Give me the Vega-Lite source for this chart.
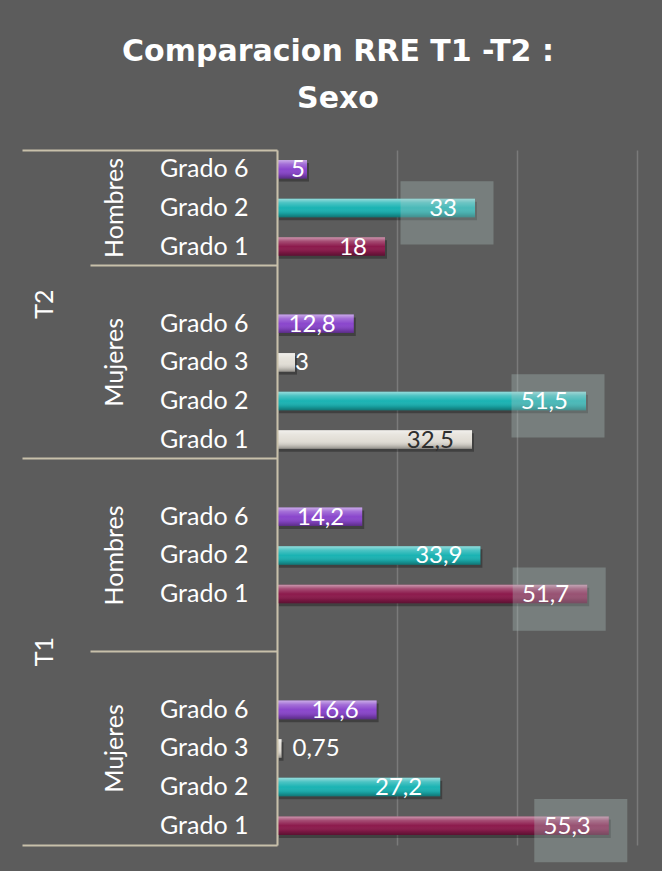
{
  "$schema": "https://vega.github.io/schema/vega-lite/v6.json",
  "width": 360,
  "height": 695,
  "autosize": {"type": "none"},
  "padding": {"left": 277, "top": 150, "right": 25, "bottom": 26},
  "background": "#5c5c5c",
  "title": {
    "text": ["Comparacion RRE T1 -T2 :", "Sexo"],
    "font": "DejaVu Sans",
    "fontSize": 30,
    "fontWeight": "bold",
    "color": "#ffffff",
    "anchor": "middle",
    "frame": "group",
    "dx": -119,
    "lineHeight": 47,
    "offset": 35
  },
  "data": {
    "values": [
      {"categoria": "T2|Hombres|Grado 6", "tiempo": "T2", "sexo": "Hombres", "grado": "Grado 6", "valor": 5},
      {"categoria": "T2|Hombres|Grado 2", "tiempo": "T2", "sexo": "Hombres", "grado": "Grado 2", "valor": 33},
      {"categoria": "T2|Hombres|Grado 1", "tiempo": "T2", "sexo": "Hombres", "grado": "Grado 1", "valor": 18},
      {"categoria": "T2|Mujeres|Grado 6", "tiempo": "T2", "sexo": "Mujeres", "grado": "Grado 6", "valor": 12.8},
      {"categoria": "T2|Mujeres|Grado 3", "tiempo": "T2", "sexo": "Mujeres", "grado": "Grado 3", "valor": 3},
      {"categoria": "T2|Mujeres|Grado 2", "tiempo": "T2", "sexo": "Mujeres", "grado": "Grado 2", "valor": 51.5},
      {"categoria": "T2|Mujeres|Grado 1", "tiempo": "T2", "sexo": "Mujeres", "grado": "Grado 1", "valor": 32.5},
      {"categoria": "T1|Hombres|Grado 6", "tiempo": "T1", "sexo": "Hombres", "grado": "Grado 6", "valor": 14.2},
      {"categoria": "T1|Hombres|Grado 2", "tiempo": "T1", "sexo": "Hombres", "grado": "Grado 2", "valor": 33.9},
      {"categoria": "T1|Hombres|Grado 1", "tiempo": "T1", "sexo": "Hombres", "grado": "Grado 1", "valor": 51.7},
      {"categoria": "T1|Mujeres|Grado 6", "tiempo": "T1", "sexo": "Mujeres", "grado": "Grado 6", "valor": 16.6},
      {"categoria": "T1|Mujeres|Grado 3", "tiempo": "T1", "sexo": "Mujeres", "grado": "Grado 3", "valor": 0.75},
      {"categoria": "T1|Mujeres|Grado 2", "tiempo": "T1", "sexo": "Mujeres", "grado": "Grado 2", "valor": 27.2},
      {"categoria": "T1|Mujeres|Grado 1", "tiempo": "T1", "sexo": "Mujeres", "grado": "Grado 1", "valor": 55.3}
    ]
  },
  "layer": [
    {
      "mark": {"type": "bar", "height": {"band": 0.48}, "color": "#000000", "opacity": 0.3, "xOffset": 2, "yOffset": 3},
      "encoding": {
        "x": {"field": "valor", "type": "quantitative", "scale": {"domain": [0, 60], "nice": false}},
        "y": {"field": "categoria", "type": "nominal", "title": null,
          "scale": {"type": "band", "paddingInner": 0, "paddingOuter": 0, "domain": ["T2|Hombres|Grado 6","T2|Hombres|Grado 2","T2|Hombres|Grado 1","T2|Mujeres|","T2|Mujeres|Grado 6","T2|Mujeres|Grado 3","T2|Mujeres|Grado 2","T2|Mujeres|Grado 1","T1|Hombres| ","T1|Hombres|Grado 6","T1|Hombres|Grado 2","T1|Hombres|Grado 1","T1|Hombres|  ","T1|Mujeres|","T1|Mujeres|Grado 6","T1|Mujeres|Grado 3","T1|Mujeres|Grado 2","T1|Mujeres|Grado 1"]},
          "axis": {"orient": "left", "labelExpr": "split(datum.value, '|')[2]", "ticks": false, "tickSize": 0, "labelPadding": 29, "domain": true, "domainColor": "#c8c0aa", "domainWidth": 2, "labelColor": "#ffffff", "labelFont": "Lato", "labelFontSize": 25, "labelOverlap": false, "grid": false, "title": null, "zindex": 1}}
      }
    },
    {
      "mark": {"type": "bar", "height": {"band": 0.48}},
      "encoding": {
        "x": {"field": "valor", "type": "quantitative", "scale": {"domain": [0, 60], "nice": false}},
        "y": {"field": "categoria", "type": "nominal", "title": null,
          "scale": {"type": "band", "paddingInner": 0, "paddingOuter": 0, "domain": ["T2|Hombres|Grado 6","T2|Hombres|Grado 2","T2|Hombres|Grado 1","T2|Mujeres|","T2|Mujeres|Grado 6","T2|Mujeres|Grado 3","T2|Mujeres|Grado 2","T2|Mujeres|Grado 1","T1|Hombres| ","T1|Hombres|Grado 6","T1|Hombres|Grado 2","T1|Hombres|Grado 1","T1|Hombres|  ","T1|Mujeres|","T1|Mujeres|Grado 6","T1|Mujeres|Grado 3","T1|Mujeres|Grado 2","T1|Mujeres|Grado 1"]},
          "axis": {"orient": "left", "values": ["T2|Hombres|Grado 1", "T1|Hombres|  "], "bandPosition": 1, "labels": false, "domain": false, "ticks": true, "tickSize": 187, "tickColor": "#c8c0aa", "tickWidth": 2, "grid": false, "title": null}},
        "color": {
          "condition": {"test": "datum.categoria == 'T2|Mujeres|Grado 1'", "value": "#e2ded6"},
          "field": "grado", "type": "nominal", "legend": null,
          "scale": {"domain": ["Grado 6", "Grado 2", "Grado 1", "Grado 3"], "range": ["#8a46cc", "#1ab3b3", "#8c1a4c", "#e2ded6"]}
        }
      }
    },
    {
      "mark": {"type": "bar", "height": {"band": 0.48},
        "color": {"gradient": "linear", "x1": 0, "y1": 0, "x2": 0, "y2": 1,
          "stops": [
            {"offset": 0, "color": "rgba(255,255,255,0.55)"},
            {"offset": 0.22, "color": "rgba(255,255,255,0.22)"},
            {"offset": 0.5, "color": "rgba(255,255,255,0)"},
            {"offset": 0.8, "color": "rgba(0,0,0,0.12)"},
            {"offset": 1, "color": "rgba(0,0,0,0.35)"}
          ]}},
      "encoding": {
        "x": {"field": "valor", "type": "quantitative", "scale": {"domain": [0, 60], "nice": false}},
        "y": {"field": "categoria", "type": "nominal", "title": null,
          "scale": {"type": "band", "paddingInner": 0, "paddingOuter": 0, "domain": ["T2|Hombres|Grado 6","T2|Hombres|Grado 2","T2|Hombres|Grado 1","T2|Mujeres|","T2|Mujeres|Grado 6","T2|Mujeres|Grado 3","T2|Mujeres|Grado 2","T2|Mujeres|Grado 1","T1|Hombres| ","T1|Hombres|Grado 6","T1|Hombres|Grado 2","T1|Hombres|Grado 1","T1|Hombres|  ","T1|Mujeres|","T1|Mujeres|Grado 6","T1|Mujeres|Grado 3","T1|Mujeres|Grado 2","T1|Mujeres|Grado 1"]},
          "axis": {"orient": "left", "values": ["T2|Mujeres|Grado 1", "T1|Mujeres|Grado 1"], "bandPosition": 1, "labels": false, "domain": false, "ticks": true, "tickSize": 255, "tickColor": "#c8c0aa", "tickWidth": 2, "grid": false, "title": null}}
      }
    },
    {
      "transform": [{"filter": {"field": "categoria", "oneOf": ["T2|Hombres|Grado 2", "T2|Mujeres|Grado 2", "T1|Hombres|Grado 1", "T1|Mujeres|Grado 1"]}}],
      "mark": {"type": "point", "shape": "M-1,-0.68L1,-0.68L1,0.68L-1,0.68Z", "size": 8649, "filled": true, "color": "#b0c8c4", "opacity": 0.32, "xOffset": -28, "yOffset": 5},
      "encoding": {
        "x": {"field": "valor", "type": "quantitative", "scale": {"domain": [0, 60], "nice": false}},
        "y": {"field": "categoria", "type": "nominal", "title": null,
          "scale": {"type": "band", "paddingInner": 0, "paddingOuter": 0, "domain": ["T2|Hombres|Grado 6","T2|Hombres|Grado 2","T2|Hombres|Grado 1","T2|Mujeres|","T2|Mujeres|Grado 6","T2|Mujeres|Grado 3","T2|Mujeres|Grado 2","T2|Mujeres|Grado 1","T1|Hombres| ","T1|Hombres|Grado 6","T1|Hombres|Grado 2","T1|Hombres|Grado 1","T1|Hombres|  ","T1|Mujeres|","T1|Mujeres|Grado 6","T1|Mujeres|Grado 3","T1|Mujeres|Grado 2","T1|Mujeres|Grado 1"]},
          "axis": {"orient": "left", "values": ["T2|Hombres|Grado 6"], "bandPosition": 0, "labels": false, "domain": false, "ticks": true, "tickSize": 255, "tickColor": "#c8c0aa", "tickWidth": 2, "grid": false, "title": null}}
      }
    },
    {
      "transform": [{"filter": {"field": "valor", "gte": 10}}],
      "mark": {"type": "text", "align": "right", "baseline": "middle", "dx": -18, "dy": 1, "font": "Lato", "fontSize": 24},
      "encoding": {
        "x": {"field": "valor", "type": "quantitative", "scale": {"domain": [0, 60], "nice": false}},
        "y": {"field": "categoria", "type": "nominal", "title": null,
          "scale": {"type": "band", "paddingInner": 0, "paddingOuter": 0, "domain": ["T2|Hombres|Grado 6","T2|Hombres|Grado 2","T2|Hombres|Grado 1","T2|Mujeres|","T2|Mujeres|Grado 6","T2|Mujeres|Grado 3","T2|Mujeres|Grado 2","T2|Mujeres|Grado 1","T1|Hombres| ","T1|Hombres|Grado 6","T1|Hombres|Grado 2","T1|Hombres|Grado 1","T1|Hombres|  ","T1|Mujeres|","T1|Mujeres|Grado 6","T1|Mujeres|Grado 3","T1|Mujeres|Grado 2","T1|Mujeres|Grado 1"]},
          "axis": {"orient": "left", "values": ["T2|Hombres|Grado 2", "T2|Mujeres|Grado 3", "T1|Hombres|Grado 2", "T1|Mujeres|Grado 3"], "labelExpr": "split(datum.value, '|')[1]", "labelAngle": -90, "labelAlign": "center", "labelBaseline": "middle", "labelPadding": 163, "ticks": false, "tickSize": 0, "domain": false, "labelColor": "#ffffff", "labelFont": "Lato", "labelFontSize": 25, "labelOverlap": false, "labelLimit": 300, "grid": false, "title": null}},
        "text": {"field": "valor", "type": "quantitative", "format": "~g"},
        "color": {"condition": {"test": "datum.categoria == 'T2|Mujeres|Grado 1'", "value": "#2e2e2e"}, "value": "#ffffff"}
      }
    },
    {
      "transform": [{"filter": {"field": "valor", "range": [4, 9.99]}}],
      "mark": {"type": "text", "align": "right", "baseline": "middle", "dx": -2, "dy": 1, "font": "Lato", "fontSize": 24, "color": "#ffffff"},
      "encoding": {
        "x": {"field": "valor", "type": "quantitative", "scale": {"domain": [0, 60], "nice": false}},
        "y": {"field": "categoria", "type": "nominal", "title": null,
          "scale": {"type": "band", "paddingInner": 0, "paddingOuter": 0, "domain": ["T2|Hombres|Grado 6","T2|Hombres|Grado 2","T2|Hombres|Grado 1","T2|Mujeres|","T2|Mujeres|Grado 6","T2|Mujeres|Grado 3","T2|Mujeres|Grado 2","T2|Mujeres|Grado 1","T1|Hombres| ","T1|Hombres|Grado 6","T1|Hombres|Grado 2","T1|Hombres|Grado 1","T1|Hombres|  ","T1|Mujeres|","T1|Mujeres|Grado 6","T1|Mujeres|Grado 3","T1|Mujeres|Grado 2","T1|Mujeres|Grado 1"]},
          "axis": {"orient": "left", "values": ["T2|Mujeres|", "T1|Hombres|  "], "labelOffset": 19, "labelExpr": "split(datum.value, '|')[0]", "labelAngle": -90, "labelAlign": "center", "labelBaseline": "middle", "labelPadding": 233, "ticks": false, "tickSize": 0, "domain": false, "labelColor": "#ffffff", "labelFont": "Lato", "labelFontSize": 25, "labelOverlap": false, "grid": false, "title": null}},
        "text": {"field": "valor", "type": "quantitative", "format": "~g"}
      }
    },
    {
      "transform": [{"filter": {"field": "valor", "range": [1, 3.99]}}],
      "mark": {"type": "text", "align": "left", "baseline": "middle", "dx": 0, "dy": 1, "font": "Lato", "fontSize": 24, "color": "#ffffff"},
      "encoding": {
        "x": {"field": "valor", "type": "quantitative", "scale": {"domain": [0, 60], "nice": false}},
        "y": {"field": "categoria", "type": "nominal", "title": null, "axis": null,
          "scale": {"type": "band", "paddingInner": 0, "paddingOuter": 0, "domain": ["T2|Hombres|Grado 6","T2|Hombres|Grado 2","T2|Hombres|Grado 1","T2|Mujeres|","T2|Mujeres|Grado 6","T2|Mujeres|Grado 3","T2|Mujeres|Grado 2","T2|Mujeres|Grado 1","T1|Hombres| ","T1|Hombres|Grado 6","T1|Hombres|Grado 2","T1|Hombres|Grado 1","T1|Hombres|  ","T1|Mujeres|","T1|Mujeres|Grado 6","T1|Mujeres|Grado 3","T1|Mujeres|Grado 2","T1|Mujeres|Grado 1"]}},
        "text": {"field": "valor", "type": "quantitative", "format": "~g"}
      }
    },
    {
      "transform": [{"filter": {"field": "valor", "lt": 1}}],
      "mark": {"type": "text", "align": "left", "baseline": "middle", "dx": 11, "dy": 1, "font": "Lato", "fontSize": 24, "color": "#ffffff"},
      "encoding": {
        "x": {"field": "valor", "type": "quantitative", "scale": {"domain": [0, 60], "nice": false}},
        "y": {"field": "categoria", "type": "nominal", "title": null, "axis": null,
          "scale": {"type": "band", "paddingInner": 0, "paddingOuter": 0, "domain": ["T2|Hombres|Grado 6","T2|Hombres|Grado 2","T2|Hombres|Grado 1","T2|Mujeres|","T2|Mujeres|Grado 6","T2|Mujeres|Grado 3","T2|Mujeres|Grado 2","T2|Mujeres|Grado 1","T1|Hombres| ","T1|Hombres|Grado 6","T1|Hombres|Grado 2","T1|Hombres|Grado 1","T1|Hombres|  ","T1|Mujeres|","T1|Mujeres|Grado 6","T1|Mujeres|Grado 3","T1|Mujeres|Grado 2","T1|Mujeres|Grado 1"]}},
        "text": {"field": "valor", "type": "quantitative", "format": "~g"}
      }
    }
  ],
  "resolve": {"axis": {"y": "independent"}},
  "config": {
    "view": {"stroke": null},
    "axisX": {"grid": true, "tickCount": 3, "gridColor": "#7a7a7a", "gridWidth": 1.5, "gridOpacity": 1, "labels": false, "ticks": false, "domain": false, "title": null},
    "locale": {"number": {"decimal": ",", "thousands": ".", "grouping": [3], "currency": ["", " €"]}}
  }
}
